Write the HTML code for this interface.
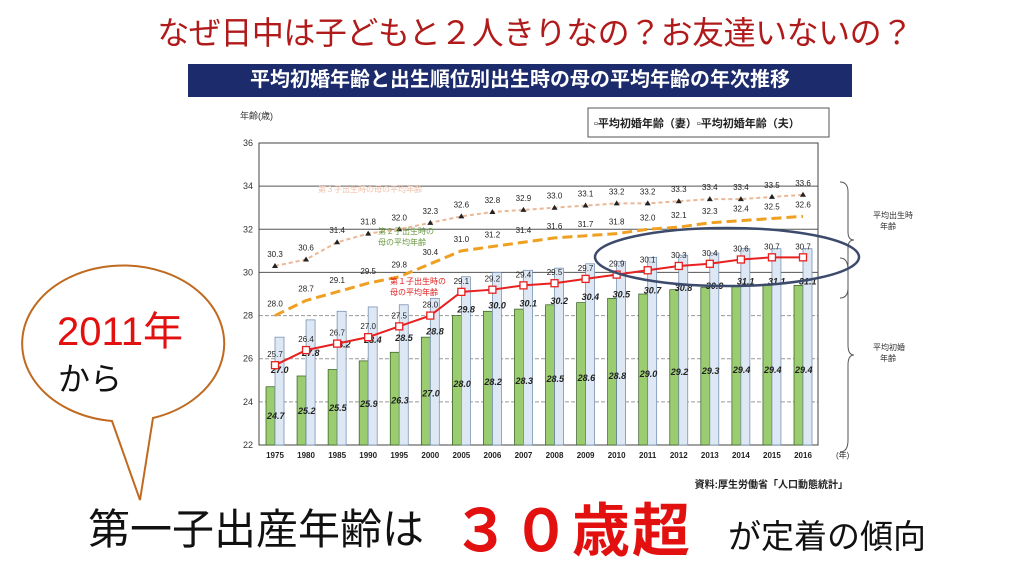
<!DOCTYPE html>
<html><head><meta charset="utf-8">
<style>
body{margin:0;width:1024px;height:576px;background:#fff;overflow:hidden;font-family:"Liberation Sans","Noto Sans CJK JP",sans-serif;position:relative}
.abs{position:absolute;white-space:nowrap}
</style></head><body>
<div class="abs" style="left:23px;width:1024px;top:8px;text-align:center;font-size:32px;color:#b01a1a;letter-spacing:-0.5px">なぜ日中は子どもと２人きりなの？お友達いないの？</div>
<div class="abs" style="left:188px;top:64px;width:664px;height:33px;background:#1b2b6b;color:#fff;font-weight:bold;font-size:20px;line-height:33px;text-align:center">平均初婚年齢と出生順位別出生時の母の平均年齢の年次推移</div>
<svg id="chart" width="1024" height="576" style="position:absolute;left:0;top:0"></svg>
<div class="abs" style="left:88px;top:496px;font-size:42px;color:#111">第一子出産年齢は</div>
<div class="abs" style="left:452px;top:484px;font-size:58px;color:#e31010;font-weight:bold;letter-spacing:2px">３０歳超</div>
<div class="abs" style="left:728px;top:510px;font-size:33px;color:#111">が定着の傾向</div>
<script>
const years=["1975","1980","1985","1990","1995","2000","2005","2006","2007","2008","2009","2010","2011","2012","2013","2014","2015","2016"];
const wife=[24.7,25.2,25.5,25.9,26.3,27.0,28.0,28.2,28.3,28.5,28.6,28.8,29.0,29.2,29.3,29.4,29.4,29.4];
const husband=[27.0,27.8,28.2,28.4,28.5,28.8,29.8,30.0,30.1,30.2,30.4,30.5,30.7,30.8,30.9,31.1,31.1,31.1];
const first=[25.7,26.4,26.7,27.0,27.5,28.0,29.1,29.2,29.4,29.5,29.7,29.9,30.1,30.3,30.4,30.6,30.7,30.7];
const second=[28.0,28.7,29.1,29.5,29.8,30.4,31.0,31.2,31.4,31.6,31.7,31.8,32.0,32.1,32.3,32.4,32.5,32.6];
const third=[30.3,30.6,31.4,31.8,32.0,32.3,32.6,32.8,32.9,33.0,33.1,33.2,33.2,33.3,33.4,33.4,33.5,33.6];
const yTicks=[22,24,26,28,30,32,34,36];
const svg=document.getElementById('chart');
const NS='http://www.w3.org/2000/svg';
const L=259,R=818,T=143,B=445,X0=275,X1=803;
const x=i=>X0+(X1-X0)*i/(years.length-1);
const y=v=>B-(v-22)/(36-22)*(B-T);
function mk(tag,a,txt){const e=document.createElementNS(NS,tag);for(const k in a)e.setAttribute(k,a[k]);if(txt!==undefined)e.textContent=txt;svg.appendChild(e);return e;}
let e;
e=mk('text',{x:240,y:119,'font-size':9,fill:'#333'},'年齢(歳)');


yTicks.forEach(t=>{
 e=mk('line',{x1:L,x2:R,y1:y(t),y2:y(t),stroke:t>=30?'#555':'#999','stroke-width':1,'stroke-dasharray':t>=30||t==22?'':'4 2'});
 
 
 e=mk('text',{x:243,y:y(t)+3,'font-size':9,fill:'#333'},String(t));
 
 
});
e=mk('rect',{x:L,y:T,width:R-L,height:B-T,fill:'none',stroke:'#444'});


years.forEach((yr,i)=>{
 e=mk('rect',{x:x(i)-9,y:y(wife[i]),width:9,height:B-y(wife[i]),fill:'#9ccc70',stroke:'#2e5a1e','stroke-width':0.7});
 
 
 e=mk('rect',{x:x(i),y:y(husband[i]),width:9,height:B-y(husband[i]),fill:'#dde8f4',stroke:'#6a86a8','stroke-width':0.7});
 
 
 e=mk('text',{x:x(i)-8,y:y(wife[i])+ (B-y(wife[i]))*0.55,'font-size':9,'font-style':'italic','font-weight':'bold',fill:'#222'},wife[i].toFixed(1));
 
 
 e=mk('text',{x:x(i)-4,y:y(husband[i])+36,'font-size':9,'font-style':'italic','font-weight':'bold',fill:'#222'},husband[i].toFixed(1));
 
 
 e=mk('text',{x:x(i),y:458,'font-size':8,'font-weight':'bold','text-anchor':'middle',fill:'#222'},yr);
 
 
});
function line(arr,color,w,dash,name){
 e=mk('polyline',{points:arr.map((v,i)=>x(i)+','+y(v)).join(' '),fill:'none',stroke:color,'stroke-width':w,'stroke-dasharray':dash});
 
 
}
line(third,'#eab896',2,'4 3','line-third-child');
line(second,'#f0a020',3,'10 5','line-second-child');
line(first,'#e82020',2,'','line-first-child');
years.forEach((yr,i)=>{
 e=mk('path',{d:`M${x(i)-3},${y(third[i])+2} l3,-5 l3,5z`,fill:'#222'});
 
 
 e=mk('text',{x:x(i),y:y(third[i])-9,'font-size':8,'text-anchor':'middle',fill:'#222'},third[i].toFixed(1));
 
 
 e=mk('text',{x:x(i),y:y(second[i])-9,'font-size':8,'text-anchor':'middle',fill:'#222'},second[i].toFixed(1));
 
 
 e=mk('rect',{x:x(i)-3.5,y:y(first[i])-3.5,width:7,height:7,fill:'#fff',stroke:'#e82020','stroke-width':1.3});
 
 
 e=mk('text',{x:x(i),y:y(first[i])-8,'font-size':8,'text-anchor':'middle',fill:'#222'},first[i].toFixed(1));
 
 
});
e=mk('text',{x:318,y:192,'font-size':8,fill:'#f0c0a8'},'第３子出生時の母の平均年齢');

e=mk('text',{x:378,y:234,'font-size':8,fill:'#6a9a40'},'第２子出生時の');

e=mk('text',{x:378,y:245,'font-size':8,fill:'#6a9a40'},'母の平均年齢');
e=mk('text',{x:390,y:284,'font-size':8,fill:'#e02020'},'第１子出生時の');

e=mk('text',{x:390,y:295,'font-size':8,fill:'#e02020'},'母の平均年齢');
e=mk('rect',{x:588,y:108,width:241,height:29,fill:'#fff',stroke:'#555'});

e=mk('text',{x:594,y:127,'font-size':11,'font-weight':'bold',fill:'#222'},'▫平均初婚年齢（妻）▫平均初婚年齢（夫）');

e=mk('path',{d:'M840,182 q8,0 8,10 v40 q0,8 6,8 q-6,0 -6,8 v40 q0,10 -8,10',fill:'none',stroke:'#555'});

e=mk('path',{d:'M840,258 q8,0 8,12 v75 q0,10 6,10 q-6,0 -6,10 v75 q0,12 -8,12',fill:'none',stroke:'#555'});

e=mk('text',{x:873,y:218,'font-size':8,fill:'#333'},'平均出生時');
e=mk('text',{x:880,y:229,'font-size':8,fill:'#333'},'年齢');
e=mk('text',{x:873,y:350,'font-size':8,fill:'#333'},'平均初婚');
e=mk('text',{x:880,y:361,'font-size':8,fill:'#333'},'年齢');
e=mk('text',{x:836,y:458,'font-size':8,fill:'#333'},'(年)');
e=mk('text',{x:848,y:488,'font-size':10,'font-weight':'bold','text-anchor':'end',fill:'#222'},'資料:厚生労働省「人口動態統計」');

e=mk('ellipse',{cx:727,cy:257,rx:132,ry:29,fill:'none',stroke:'#3c4a6c','stroke-width':2.5});

e=mk('path',{d:'M112,421 A101,78 0 1 1 153,418 L140,500 Z',fill:'#fff',stroke:'#c06a20','stroke-width':2});

e=mk('text',{x:57,y:345,'font-size':40,fill:'#e31010'},'2011年');

e=mk('text',{x:58,y:390,'font-size':32,fill:'#111'},'から');

</script>
</body></html>
